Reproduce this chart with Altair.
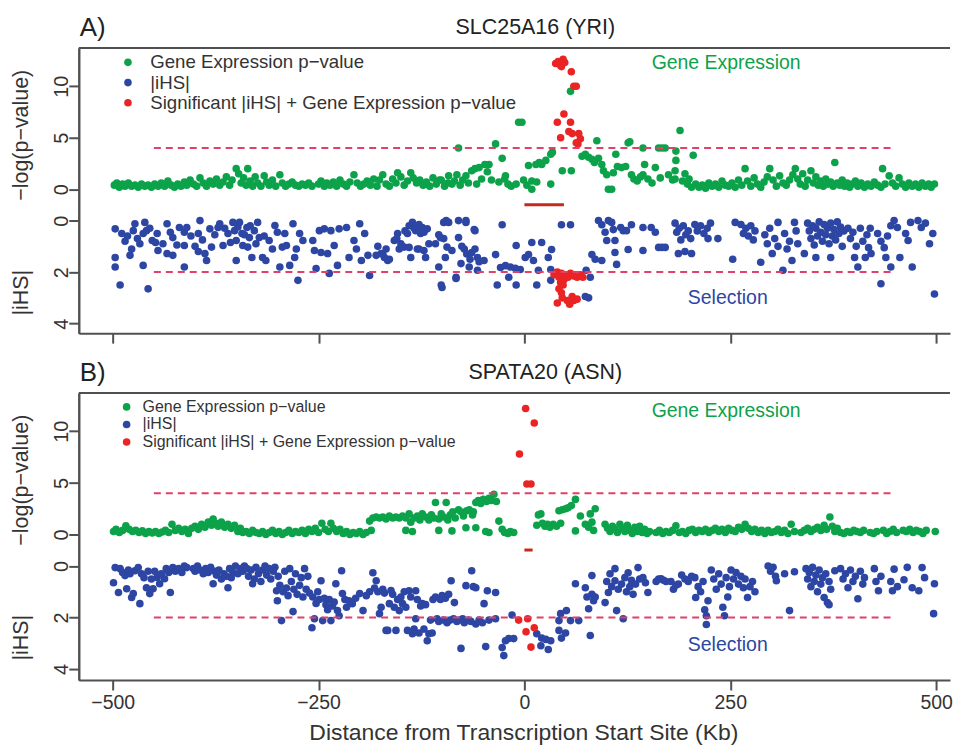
import altair as alt
import pandas as pd

# ---------------- data (kb from TSS, value) ----------------
A_GE = [(-498,0.4),(-495,0.6),(-492,0.2),(-488,0.5),(-485,0.3),(-481,0.6),(-477,0.3),(-473,0.4),(-469,0.2),(-465,0.5),(-461,0.3),(-457,0.4),(-453,0.2),(-449,0.5),(-445,0.3),(-441,0.6),(-437,0.3),(-433,0.8),(-429,0.4),(-425,0.2),(-421,0.5),(-417,0.3),(-413,0.7),(-410,0.4),(-406,0.9),(-402,0.5),(-398,0.3),(-394,1.1),(-390,0.6),(-386,0.3),(-382,0.8),(-378,0.5),(-374,1.0),(-370,0.4),(-366,0.7),(-362,1.2),(-358,0.4),(-355,0.9),(-350,2.0),(-347,1.5),(-344,0.6),(-341,1.1),(-338,0.4),(-336,2.0),(-333,0.8),(-330,0.3),(-327,1.2),(-324,0.6),(-320,0.3),(-316,1.3),(-313,0.7),(-310,0.4),(-306,0.9),(-302,0.3),(-297,1.4),(-294,0.6),(-290,0.3),(-286,0.5),(-282,0.7),(-278,0.4),(-274,0.3),(-270,0.5),(-266,0.4),(-262,0.6),(-258,0.3),
        (-250,0.5),(-247,0.8),(-243,0.3),(-240,0.6),(-236,0.4),(-232,0.7),(-228,0.3),(-224,0.9),(-220,0.5),(-216,0.3),(-212,0.7),(-207,1.4),(-203,0.6),(-199,0.3),(-195,0.5),(-191,0.8),(-187,0.4),(-183,1.0),(-179,0.3),(-176,0.9),(-172,1.4),(-168,0.5),(-164,0.3),(-160,1.0),(-156,0.6),(-154,1.6),(-150,1.2),(-146,0.4),(-142,0.8),(-138,1.6),(-135,1.1),(-131,0.6),(-127,0.9),(-123,0.4),(-119,0.7),(-115,0.3),(-111,1.1),(-107,0.5),(-103,0.9),(-101,0.9),(-97,0.3),(-93,0.6),(-92,1.3),(-88,0.5),(-85,0.8),(-82,1.4),(-80,4.0),(-78,0.4),(-75,0.9),(-71,1.3),(-68,0.6),(-64,1.8),(-60,2.0),(-58,0.5),(-55,2.1),(-52,1.0),(-48,2.4),(-45,1.7),(-43,2.4),(-40,0.9),(-35,4.4),(-31,0.7),(-27,3.0),(-24,1.0),(-23,1.3),(-20,0.5),(-16,0.3),(-10,0.5),(-7,6.5),(-3,6.5),(-1,0.9),
        (3,0.4),(5,2.3),(9,0.8),(9,0.0),(14,2.4),(15,0.7),(18,2.6),(21,2.4),(26,2.8),(32,3.4),(32,0.5),(34,3.6),(46,1.8),(56,9.5),(57,1.8),(70,3.2),(74,3.4),(78,3.1),(82,2.9),(85,2.6),(88,4.7),(90,3.0),(94,2.4),(96,1.8),(100,1.4),(102,0.0),(106,0.0),(108,1.6),(111,3.4),(113,2.2),(118,2.1),(123,2.2),(126,4.5),(128,4.6),(130,1.4),(133,1.0),(137,0.8),(141,1.2),(144,4.0),(146,2.4),(144,1.4),(150,1.0),(155,0.6),(159,2.1),(163,4.0),(167,4.0),(171,4.0),(165,1.1),(175,1.4),(180,0.9),(184,3.7),(184,2.8),(183,1.8),(183,1.0),(189,5.7),(192,0.8),(195,1.5),(198,0.5),(200,1.0),(203,0.2),(205,3.3),
        (208,0.5),(212,0.2),(216,0.4),(220,0.1),(224,0.6),(228,0.3),(232,0.5),(236,0.2),(240,0.8),(244,0.4),(248,0.3),(252,0.6),(256,0.2),(260,0.9),(264,0.4),(268,2.0),(271,0.8),(275,0.3),(279,1.1),(283,0.5),(287,0.2),(291,0.7),(295,1.2),(298,2.0),(302,0.9),(306,0.3),(310,1.3),(314,0.6),(318,0.4),(322,0.9),(326,1.4),(329,2.0),(332,1.0),(335,0.5),(338,1.5),(341,0.3),(344,0.9),(348,1.8),(351,0.6),(354,1.2),(357,0.4),(360,0.8),(363,0.3),(366,1.0),(369,0.5),(372,0.7),(375,0.3),(377,2.6),(380,0.6),(383,0.4),(386,0.9),(389,0.3),(392,0.6),(395,0.2),(398,0.5),(402,0.8),(405,0.3),(409,0.6),(413,0.2),(417,0.5),(421,0.3),(425,0.7),(429,0.4),(433,0.2),(435,2.0),(438,0.5),(443,1.3),(447,0.6),(451,0.3),(455,1.1),(459,0.5),(463,0.2),(467,0.6),(471,0.3),(475,0.5),(479,0.2),(483,0.6),(487,0.3),(491,0.5),(494,0.2),(498,0.5)]

A_SIG_GE = [(38,12.2),(41,12.4),(44,12.0),(47,12.6),(49,12.3),(45,11.9),(57,11.4),(60,10.0),(63,10.0),(48,7.3),(40,6.5),(56,6.5),(44,5.0),(54,5.6),(58,5.4),(66,5.4),(68,4.9),(63,4.5),(65,4.4)]

A_IHS = [(-497,0.32),(-497,1.43),(-497,1.8),(-491,2.5),(-489,0.5),(-485,0.8),(-479,1.35),(-477,1.1),(-473,0.12),(-475,0.39),(-467,0.9),(-463,0.5),(-461,0.07),(-459,0.39),(-457,2.65),(-463,1.74),(-452,0.77),(-446,0.5),(-445,1.16),(-439,0.9),(-434,0.12),(-434,1.28),(-427,0.66),(-427,1.35),(-419,0.27),(-413,0.45),(-413,0.97),(-413,1.8),(-410,0.27),(-396,0.5),(-394,0.0),(-396,1.2),(-388,1.28),(-386,1.55),(-382,0.32),(-380,1.03),(-372,0.27),(-370,0.12),(-366,0.97),(-360,0.5),(-354,0.07),(-352,0.39),(-350,0.77),(-350,1.55),(-346,0.07),(-343,0.5),(-342,0.97),(-337,0.27),(-336,1.03),(-334,0.66),(-331,1.43),(-328,0.39),(-324,0.07),(-322,0.66),(-318,1.43),(-314,1.55),(-310,0.77),(-303,0.19),(-300,0.45),(-297,1.8),(-294,1.03),(-291,0.5),(-289,0.97),(-285,1.74),(-281,0.12),(-279,1.43),(-277,1.1),(-275,2.32),(-273,0.5),(-269,0.77),(-257,0.77),(-255,1.16),(-253,1.86),(-249,0.39),(-247,1.24),(-243,0.32),(-239,1.28),(-237,2.05),(-235,0.39),(-231,0.97),(-227,1.74),(-225,0.32),(-216,0.27),(-213,1.43),(-207,0.77),(-204,1.1),(-200,0.12),(-198,1.55),(-194,0.5),(-190,1.35),(-188,2.13),(-180,1.35),(-174,1.28),(-170,1.43),(-168,1.1),(-164,1.5),(-158,0.77),(-154,0.5),(-152,1.1),(-146,1.03),(-142,0.5),(-138,1.43),(-136,0.07),(-132,0.39),(-130,1.1),(-126,0.5),(-124,0.27),(-120,1.43),(-118,0.32),(-116,0.9),(-108,0.9),(-104,1.8),(-102,0.66),(-100,2.6),(-98,0.07),(-96,1.43),(-94,1.03),(-92,0.07),(-88,1.16),(-83,2.25),(-80,0.66),(-77,1.67),(-73,1.1),(-71,0.07),(-67,1.8),(-64,1.24),(-60,0.39),(-57,1.43),
         (-482,0.6),(-470,0.7),(-455,0.3),(-448,0.85),(-430,0.45),(-422,0.95),(-405,0.6),(-400,1.0),(-391,0.75),(-376,0.55),(-364,0.3),(-357,0.85),(-348,0.25),(-340,0.55),(-333,0.2),(-326,0.9),(-316,0.6),(-306,1.1),
         (-178,1.0),(-172,1.3),(-166,1.55),(-155,0.7),(-150,0.9),(-145,0.4),(-140,0.2),(-134,0.3),(-128,0.15),(-122,0.45),(-140,1.04),(-128,1.1),(-122,1.16),(-101,2.5),(-104,0.55),(-98,0.7),(-95,0.0),(-83,2.2),(-80,0.0),(-71,0.0),(-76,1.0),(-70,1.3),(-66,1.5),(-60,1.1),(-55,1.6),(-61,0.35),(-57,1.93),(-49,1.55),(-35,1.32),(-33,2.5),(-29,1.82),(-27,0.16),(-23,1.75),(-17,1.8),(-11,1.85),(-5,1.9),(-19,2.2),(-10,0.97),(-10,2.5),(1,1.43),(5,1.32),(9,0.85),(11,1.55),(15,2.5),(17,1.93),(21,0.85),(29,1.43),(32,2.32),(32,1.9),(33,1.12),(45,0.16),(56,0.16),(74,2.95),(78,3.0),(75,1.93),(80,2.2),(82,1.32),(86,1.5),(90,0.0),(94,0.16),(94,1.55),(98,0.45),(100,0.77),(102,0.0),(106,0.07),(108,0.35),(110,0.77),(110,1.24),(112,1.7),(117,0.27),(120,0.39),(124,0.39),(126,1.12),(130,0.16),(144,0.27),(144,1.16),(154,0.27),(159,0.45),(163,1.04),(167,1.04),(171,1.04),
         (183,0.1),(185,0.45),(188,0.3),(190,0.75),(193,0.2),(196,0.55),(199,0.4),(202,0.7),(187,1.28),(195,1.2),(203,1.28),(207,0.15),(210,0.4),(214,0.2),(218,0.5),(222,0.3),(226,0.1),(223,0.7),(235,0.7),(253,1.5),(256,0.07),(263,0.15),(266,0.5),(269,0.3),(272,0.6),(275,0.2),(278,0.75),(280,0.4),(287,1.62),(292,0.55),(295,0.9),(298,0.3),(301,1.28),(304,0.7),(308,0.07),(308,1.0),(314,1.93),(316,0.5),(319,1.1),(322,0.8),(325,1.55),(328,0.07),(330,0.4),(332,0.9),(340,1.28),(344,0.1),(346,0.4),(348,0.7),(350,0.2),(352,0.95),(354,0.3),(356,0.6),(358,0.05),(360,0.45),(362,0.8),(364,0.15),(366,0.55),(368,0.3),(370,0.9),(372,0.1),(374,0.6),(376,0.35),(378,0.75),(380,0.05),(382,0.5),(384,0.25),(386,1.0),(388,0.4),(354,1.43),(372,1.43),(393,0.3),(396,0.7),(399,0.45),(401,1.43),(403,1.0),(405,1.8),(408,0.3),(411,0.8),(414,1.43),(416,0.55),(418,1.05),(421,1.28),(420,0.3),(429,0.5),(433,2.45),(433,0.8),(437,1.05),(439,1.43),(441,0.6),(445,1.8),(445,0.2),(449,0.0),(453,0.27),(456,1.43),(463,0.5),(466,0.77),(469,0.07),(471,1.8),(478,0.0),(482,0.27),(487,0.1),(492,0.9),(496,0.5),(498,2.85)]

A_SIG_IHS = [(36,2.1),(40,2.0),(42,2.2),(45,2.05),(48,2.3),(50,2.1),(53,2.2),(56,2.05),(60,2.15),(64,2.2),(68,2.1),(71,2.2),(44,2.4),(47,2.5),(42,2.65),(45,2.8),(46,3.0),(40,3.2),(52,3.1),(55,3.25),(58,2.95),(60,3.1),(64,3.05)]

B_GE = [(-499,0.3),(-496,0.5),(-492,0.2),(-488,0.4),(-484,0.85),(-480,0.5),(-476,0.3),(-472,0.4),(-468,0.2),(-464,0.35),(-460,0.1),(-456,0.3),(-452,0.15),(-448,0.3),(-444,0.1),(-440,0.25),(-436,0.4),(-432,0.2),(-428,1.0),(-424,0.4),(-420,0.6),(-416,0.3),(-412,0.5),(-408,0.1),(-404,0.6),(-400,0.8),(-396,0.5),(-392,1.0),(-388,0.7),(-384,1.2),(-380,0.9),(-378,1.5),(-375,1.1),(-372,0.8),(-368,1.2),(-364,0.7),(-360,1.0),(-356,0.6),(-352,0.9),(-348,0.3),(-345,0.6),(-342,0.2),(-338,0.3),(-334,0.1),(-330,0.4),(-326,0.2),(-322,0.1),(-318,0.3),(-314,0.0),(-310,0.2),(-306,0.4),(-302,0.1),(-298,0.3),(-294,0.0),(-290,0.2),(-286,0.4),(-282,0.1),(-278,0.3),(-274,0.2),(-270,0.4),(-266,0.1),(-262,0.5),(-258,0.3),(-254,0.6),(-250,0.2),(-246,1.1),(-242,0.5),(-238,0.3),(-235,1.1),(-232,0.6),(-228,0.3),(-224,0.5),(-220,0.1),(-216,0.3),(-212,0.0),(-208,0.2),(-204,0.1),(-200,0.3),(-196,0.0),(-192,0.2),
        (-188,1.3),(-186,0.4),(-184,1.6),(-180,1.7),(-176,1.6),(-172,1.7),(-168,1.5),(-164,1.8),(-160,1.6),(-156,1.7),(-152,1.6),(-148,1.8),(-144,1.6),(-144,0.4),(-140,2.0),(-138,1.2),(-136,0.3),(-134,1.6),(-130,1.8),(-127,1.4),(-124,2.0),(-120,1.7),(-116,1.4),(-113,1.9),(-110,1.6),(-108,3.1),(-104,1.5),(-104,0.4),(-101,2.0),(-98,1.7),(-95,3.1),(-93,1.4),(-90,1.9),(-88,0.35),(-87,2.2),(-84,1.6),(-80,2.4),(-77,2.2),(-74,1.8),(-71,0.65),(-70,2.3),(-67,2.4),(-63,1.9),(-62,2.2),(-59,3.1),(-59,0.65),(-56,3.3),(-53,3.0),(-50,3.4),(-47,0.3),(-46,3.2),(-43,3.5),(-43,0.2),(-40,3.3),(-37,3.9),(-34,3.2),(-31,1.3),(-27,0.5),(-24,0.2),(-20,0.1),(-17,0.3),(-13,0.2),
        (15,0.9),(17,1.9),(20,2.0),(22,1.1),(25,0.8),(28,1.0),(31,0.7),(35,1.0),(39,0.8),(42,2.3),(44,1.1),(46,2.4),(50,2.5),(53,2.6),(57,2.8),(62,3.4),(62,0.35),(68,1.8),(74,1.0),(78,0.7),(80,2.0),(82,1.2),(84,0.4),(86,2.5),(98,1.0),(101,0.6),(104,0.3),(107,0.8),(110,0.5),(113,0.2),(116,1.0),(119,0.6),(122,0.3),(125,0.9),(128,0.4),(131,0.1),(134,0.7),(137,0.3),(140,0.8),(143,0.2),(146,0.5),(149,0.1),(152,0.3),(160,0.2),(164,0.4),(168,0.1),(172,0.3),(176,0.2),(180,0.4),(184,0.85),(188,0.2),(192,0.3),(196,0.1),(200,0.4),(204,0.5),(208,0.2),(212,0.4),(216,0.3),(220,0.5),(224,0.2),(228,0.4),(232,0.6),(236,0.3),(240,0.5),(244,0.2),(248,0.6),(252,0.4),(256,0.3),(260,0.7),(264,0.5),(268,1.0),(272,0.6),(276,0.3),(280,0.5),(284,0.2),(288,0.4),(292,0.1),(296,0.4),(300,0.2),(304,0.3),(308,0.5),(312,0.2),(316,0.4),(320,0.1),(324,1.0),(328,0.3),(336,0.2),(340,0.4),(344,0.6),(348,0.3),(352,0.5),(356,0.7),(360,0.4),(364,0.9),(367,0.5),(371,1.7),(374,0.8),(377,0.3),(380,0.6),(384,0.2),(388,0.1),(392,0.3),(396,0.2),(400,0.4),(404,0.3),(408,0.2),(412,0.4),(420,0.2),(424,0.1),(428,0.3),(436,0.4),(440,0.1),(444,0.3),(448,0.5),(452,0.2),(460,0.4),(464,0.3),(468,0.5),(472,0.2),(476,0.4),(480,0.3),(484,0.1),(488,0.4),(499,0.3)]

B_SIG_GE = [(1.5,12.2),(12,10.8),(-6,7.8),(3,4.9),(8,4.9)]

B_IHS = [(-499,0.65),(-497,0.06),(-493,1.03),(-491,0.1),(-488,0.25),(-485,0.37),(-483,0.88),(-481,0.15),(-479,0.3),(-477,1.22),(-475,1.07),(-473,0.18),(-469,0.06),(-467,1.46),(-465,0.3),(-462,0.45),(-459,0.84),(-457,0.2),(-455,1.07),(-453,0.5),(-451,0.88),(-449,0.2),(-446,0.44),(-443,0.69),(-441,0.3),(-437,0.49),(-435,0.1),(-432,0.25),(-430,1.03),(-427,0.06),(-424,0.2),(-420,0.1),(-416,0.25),(-413,0.0),(-410,0.06),(-402,0.1),(-400,0.2),(-397,0.0),(-394,0.15),(-390,0.3),(-387,0.1),(-384,0.25),(-381,0.05),(-378,0.69),(-376,0.2),(-374,0.35),(-371,0.15),(-368,0.5),(-365,0.3),(-362,0.4),(-360,0.84),(-358,0.1),(-356,0.45),(-354,0.25),(-351,0.0),(-348,0.3),(-345,0.1),(-342,0.2),(-340,0.0),(-337,0.1),(-335,0.4),(-332,0.15),(-330,0.69),(-328,0.5),(-326,0.05),(-323,0.3),(-320,0.6),(-318,0.15),(-315,0.0),(-313,0.35),(-310,0.1),(-308,0.5),(-305,0.2),(-303,0.05),(-301,0.96),(-300,1.35),(-299,0.4),(-297,0.75),(-295,2.12),(-293,1.0),(-291,0.2),(-289,0.85),(-287,1.15),(-285,0.1),(-283,0.6),(-281,1.77),(-280,0.9),(-278,0.3),(-276,1.1),(-273,0.75),(-271,0.45),(-269,1.2),(-267,0.1),(-265,0.9),(-263,0.4),(-261,1.05),(-258,2.4),(-257,1.2),(-255,2.05),(-253,1.45),(-251,1.0),(-249,1.3),(-247,0.57),(-245,2.12),(-243,1.25),(-241,1.5),(-239,1.7),(-237,1.3),(-235,2.12),(-233,1.55),(-231,1.4),(-229,0.69),(-227,1.73),(-225,1.93),(-222,0.18),(-221,1.07),(-218,1.3),(-216,1.6),(-213,1.35),(-209,1.46),(-205,1.25),(-200,1.07),(-196,1.73),(-192,1.15),(-188,1.0),(-184,0.26),(-182,0.85),(-180,0.57),(-178,1.0),(-176,1.85),(-174,1.6),(-172,0.9),(-170,1.05),(-168,2.5),(-166,2.5),(-164,1.46),(-162,0.95),(-160,1.1),(-158,1.6),(-156,2.5),(-154,1.3),(-152,1.73),(-150,1.2),(-148,1.46),(-146,1.0),(-144,1.6),(-142,2.5),(-140,0.96),(-138,1.2),(-136,2.63),(-134,2.45),(-132,0.96),(-132,2.05),(-130,1.3),(-128,2.6),(-126,1.55),(-124,1.46),(-122,2.45),(-120,1.5),(-118,2.9),(-116,2.63),(-114,2.1),(-112,2.6),(-111,1.3),(-108,1.2),(-106,2.05),(-104,2.15),(-102,1.3),(-100,1.15),(-98,2.1),(-96,1.25),(-94,2.2),(-92,1.1),(-90,2.1),(-89,0.57),(-86,2.05),(-85,1.42),(-82,2.15),(-79,2.1),(-77,3.2),(-75,2.05),(-73,2.2),(-71,0.76),(-68,2.1),(-65,2.15),(-64,0.18),(-62,0.8),(-59,0.84),(-59,2.25),(-55,2.1),(-51,2.2),(-49,1.46),(-47,3.13),(-45,0.96),(-43,2.1),(-35,1.03),(-35,2.05),(-27,3.17),(-25,3.48),(-23,2.9),(-19,2.82),(-15,1.9),(-13,2.82),
         (15,2.63),(20,3.1),(21,2.8),(26,2.85),(29,3.24),(32,2.9),(42,2.12),(44,1.85),(42,2.5),(45,2.8),(51,1.73),(50,2.6),(56,2.12),(62,0.69),(66,2.12),(74,0.84),(76,1.2),(78,1.66),(80,2.7),(82,0.37),(82,1.1),(84,1.35),(86,1.2),(98,1.42),(100,0.6),(102,1.03),(104,0.3),(106,0.8),(110,0.1),(110,0.57),(112,1.73),(114,0.9),(118,0.7),(120,2.05),(122,0.45),(124,1.0),(126,0.26),(128,0.8),(130,0.55),(132,1.1),(135,0.7),(138,0.06),(140,0.5),(144,0.45),(147,0.65),(150,1.03),(160,0.6),(163,0.5),(166,0.49),(169,0.55),(172,0.6),(178,0.6),(181,0.9),(184,0.75),(187,0.7),(191,0.35),(195,0.5),(199,0.6),(203,0.4),(207,0.45),(208,1.22),(211,0.8),(214,1.0),(217,0.6),(219,1.7),(221,1.93),(221,2.27),(223,1.35),(227,0.15),(230,0.5),(233,0.9),(236,0.3),(239,0.7),(241,1.6),(243,1.93),(245,0.45),(247,1.2),(249,0.8),(251,0.15),(254,0.5),(257,0.25),(260,0.7),(263,0.4),(266,0.84),(268,0.5),(271,1.22),(274,0.8),(277,0.6),(280,1.0),(296,0.0),(299,0.2),(302,0.05),(305,0.4),(306,0.57),(316,0.3),(322,1.73),(328,0.22),(342,0.1),(344,0.5),(346,0.25),(348,0.8),(350,0.05),(352,0.6),(354,0.35),(356,1.0),(358,0.15),(360,0.7),(362,0.45),(364,1.22),(366,0.3),(368,1.42),(370,1.5),(370,0.6),(372,0.9),(377,0.18),(384,0.1),(387,0.5),(390,0.3),(393,0.84),(396,0.15),(399,0.6),(402,0.4),(405,1.27),(408,0.2),(411,0.7),(413,0.45),(425,0.1),(427,0.6),(430,0.96),(433,0.4),(445,0.6),(447,0.96),(449,0.12),(453,0.8),(461,0.53),(465,0.05),(471,0.84),(479,0.96),(483,0.06),(486,0.45),(498,0.69),(497,1.85)]

B_SIG_IHS = [(-7,2.1),(4,2.05),(2,2.55),(12,2.4),(8,3.15)]

GENE_SPAN_A = [0, 48]
GENE_SPAN_B = [0, 10]
THRESH_GE = 4
THRESH_IHS = 2
THRESH_SPAN = [-450, 450]
X_TICKS = [-500, -250, 0, 250, 500]

LAB_GE = "Gene Expression p\u2212value"
LAB_IHS = "|iHS|"
LAB_SIG = "Significant |iHS| + Gene Expression p\u2212value"

# ---------------- styling ----------------
FONT = "Liberation Sans"
GREEN = "#0ca24a"
BLUE = "#2d46a3"
RED = "#ea2424"
DASH = "#e0406a"
GENE = "#c22a1f"
FRAME = "#505050"
TXT = "#333333"
W = 874
XDOM = [-541.2, 516.9]

xscale = alt.Scale(domain=XDOM, nice=False, zero=False)
cscale = alt.Scale(domain=[LAB_GE, LAB_IHS, LAB_SIG], range=[GREEN, BLUE, RED])


def yaxis(values, title, title_y):
    return alt.Axis(orient="left", values=values, title=title, titleX=-57, titleY=title_y,
                    titleAngle=270, titleAlign="center", titleBaseline="middle",
                    titleFontSize=21.5, titleFont=FONT, titleFontWeight="normal", titleColor=TXT,
                    labelAngle=270, labelAlign="center", labelBaseline="middle",
                    labelFontSize=20, labelFont=FONT, labelColor=TXT, labelPadding=7,
                    tickSize=10, tickWidth=2, tickColor=FRAME,
                    domainColor=FRAME, domainWidth=2, grid=False)


def panel(tag, gene_title, title_x, ge, sig_ge, ihs, sig_ihs, gene_span, h,
          top_dom, bot_dom, ge_lab_v, sel_lab_u, last, leg_font, leg_y, leg_row, leg_off):
    top_df = pd.DataFrame([{"x": x, "val": v, "series": LAB_GE} for x, v in ge] +
                          [{"x": x, "val": v, "series": LAB_SIG} for x, v in sig_ge])
    bot_df = pd.DataFrame([{"x": x, "val": v, "series": LAB_IHS} for x, v in ihs] +
                          [{"x": x, "val": v, "series": LAB_SIG} for x, v in sig_ihs])
    ytop = alt.Scale(domain=top_dom, nice=False, zero=False)
    ybot = alt.Scale(domain=bot_dom, nice=False, zero=False, reverse=True)

    if last:
        xaxis = alt.Axis(values=X_TICKS, title="Distance from Transcription Start Site (Kb)",
                         titleFontSize=23, titleFont=FONT, titleFontWeight="normal", titleColor=TXT,
                         titleX=446, titleY=53, titleAlign="center", titleBaseline="middle",
                         labelFontSize=19.5, labelFont=FONT, labelColor=TXT, labelPadding=4,
                         tickSize=10, tickWidth=2, tickColor=FRAME,
                         domainColor=FRAME, domainWidth=2, grid=False)
    else:
        xaxis = alt.Axis(values=X_TICKS, title="", labels=False,
                         tickSize=10, tickWidth=2, tickColor=FRAME,
                         domainColor=FRAME, domainWidth=2, grid=False)
    ax_top = yaxis([0, 5, 10], "\u2212log(p\u2212value)", 87)
    ax_bot = yaxis([0, 2, 4], "|iHS|", 245)

    X = alt.X("x:Q", scale=xscale, axis=xaxis)
    YT = alt.Y("val:Q", scale=ytop, axis=ax_top)
    YB = alt.Y("val:Q", scale=ybot, axis=ax_bot)

    legend = alt.Legend(title=None, orient="none", legendX=40, legendY=leg_y,
                        labelFontSize=leg_font, labelFont=FONT, labelColor=TXT, labelLimit=800,
                        symbolType="circle", symbolSize=58, symbolStrokeWidth=0,
                        labelOffset=leg_off, rowPadding=leg_row, padding=0)

    top_pts = alt.Chart(top_df).mark_circle(size=58, opacity=1).encode(
        x=X, y=YT, color=alt.Color("series:N", scale=cscale, legend=legend))
    top_rule = alt.Chart(pd.DataFrame({"x": [THRESH_SPAN[0]], "x2": [THRESH_SPAN[1]], "val": [THRESH_GE]})).mark_rule(
        color=DASH, strokeWidth=2, strokeDash=[7, 5]).encode(x=X, x2="x2:Q", y=YT)
    gene_line = alt.Chart(pd.DataFrame({"x": [gene_span[0]], "x2": [gene_span[1]], "val": [-1.5]})).mark_rule(
        color=GENE, strokeWidth=3).encode(x=X, x2="x2:Q", y=YT)
    ge_lab = alt.Chart(pd.DataFrame({"x": [245], "val": [ge_lab_v], "t": ["Gene Expression"]})).mark_text(
        color=GREEN, fontSize=19.5, font=FONT, align="center", baseline="middle").encode(
        x=X, y=YT, text="t:N")
    frame_top = alt.Chart(pd.DataFrame({"a": [0]})).mark_rule(color=FRAME, strokeWidth=2).encode(
        x=alt.value(0), x2=alt.value(W), y=alt.value(0))
    tag_txt = alt.Chart(pd.DataFrame({"t": [tag]})).mark_text(
        fontSize=26, font=FONT, color="#222222", align="left", baseline="middle").encode(
        x=alt.value(1), y=alt.value(-20), text="t:N")
    title_txt = alt.Chart(pd.DataFrame({"t": [gene_title]})).mark_text(
        fontSize=21.5, font=FONT, color="#222222", align="center", baseline="middle").encode(
        x=alt.value(title_x), y=alt.value(-20), text="t:N")

    top_group = alt.layer(top_pts, top_rule, gene_line, ge_lab, frame_top, tag_txt, title_txt)

    bot_pts = alt.Chart(bot_df).mark_circle(size=58, opacity=1).encode(
        x=X, y=YB, color=alt.Color("series:N", scale=cscale, legend=legend))
    bot_rule = alt.Chart(pd.DataFrame({"x": [THRESH_SPAN[0]], "x2": [THRESH_SPAN[1]], "val": [THRESH_IHS]})).mark_rule(
        color=DASH, strokeWidth=2, strokeDash=[7, 5]).encode(x=X, x2="x2:Q", y=YB)
    sel_lab = alt.Chart(pd.DataFrame({"x": [247], "val": [sel_lab_u], "t": ["Selection"]})).mark_text(
        color=BLUE, fontSize=19.5, font=FONT, align="center", baseline="middle").encode(
        x=X, y=YB, text="t:N")
    bot_group = alt.layer(bot_pts, bot_rule, sel_lab)

    return alt.layer(top_group, bot_group).resolve_scale(y="independent").properties(width=W, height=h)


pA = panel("A)", "SLC25A16 (YRI)", 458, A_GE, A_SIG_GE, A_IHS, A_SIG_IHS, GENE_SPAN_A, 286,
           [-13.96, 13.70], [-6.70, 4.37], 12.2, 3.02, False, 18.7, 5, 0.3, 13)
pB = panel("B)", "SPATA20 (ASN)", 468, B_GE, B_SIG_GE, B_IHS, B_SIG_IHS, GENE_SPAN_B, 288,
           [-14.09, 13.71], [-6.73, 4.43], 12.0, 3.05, True, 16, 6, 1.6, 8)

chart = alt.vconcat(pA, pB, spacing=16).resolve_scale(
    x="independent", y="independent", color="independent").resolve_legend(color="independent").properties(
    padding={"left": 3, "top": 6, "right": 0, "bottom": 0}, background="white"
).configure_view(stroke=None)

chart.save("out.html", embed_options={"renderer": "svg", "actions": False})
